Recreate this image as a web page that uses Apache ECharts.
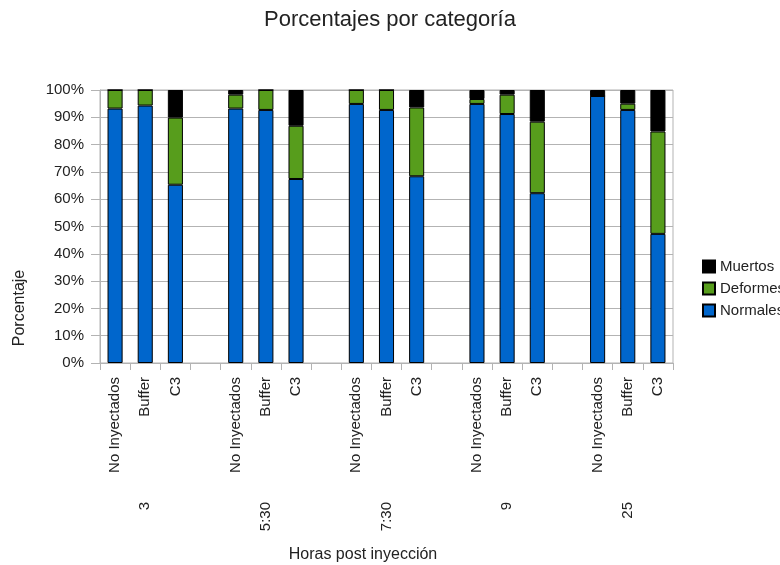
<!DOCTYPE html>
<html>
<head>
<meta charset="utf-8">
<script src="https://cdn.jsdelivr.net/npm/echarts@6/dist/echarts.min.js"></script>
<style>html,body{margin:0;padding:0;background:#fff}#c{width:780px;height:565px}</style>
</head>
<body>
<div id="c"></div>
<script>
var groups = ['3', '5:30', '7:30', '9', '25'];
var subcats = ['No Inyectados', 'Buffer', 'C3'];
var normales = [[93.2, 94.3, 65.3], [93.2, 92.7, 67.4], [94.9, 92.7, 68.4], [94.9, 91.2, 62.2], [97.8, 92.7, 47.3]];
var deformes = [[6.8, 5.7, 24.6], [5.1, 7.3, 19.5], [5.1, 7.3, 25.2], [1.8, 7.1, 26.2], [0, 2.3, 37.5]];
var muertos = [[0, 0, 10.1], [1.7, 0, 13.1], [0, 0, 6.4], [3.3, 1.7, 11.6], [2.2, 5.0, 15.2]];
var yTicks = [0, 10, 20, 30, 40, 50, 60, 70, 80, 90, 100];

var cats = [], groupCats = [], nData = [], dData = [], mData = [];
groups.forEach(function (g, gi) {
  subcats.forEach(function (s, si) {
    cats.push(s);
    groupCats.push(si === 1 ? g : '');
    nData.push(normales[gi][si]);
    dData.push(deformes[gi][si]);
    mData.push(muertos[gi][si]);
  });
  if (gi < groups.length - 1) {
    cats.push('');
    groupCats.push('');
    nData.push(null); dData.push(null); mData.push(null);
  }
});

var font = 'Liberation Sans, Arial, sans-serif';
var chart = echarts.init(document.getElementById('c'));
function bar(name, data, color) {
  return {
    name: name, type: 'bar', stack: 'total', data: data, barWidth: '50%',
    xAxisIndex: 0, yAxisIndex: 0,
    itemStyle: { color: color, borderColor: '#000', borderWidth: 1 },
    emphasis: { disabled: true }
  };
}
chart.setOption({
  animation: false,
  title: [
    { text: 'Porcentajes por categoría', left: 'center', top: 4,
      textStyle: { fontFamily: font, fontSize: 22, fontWeight: 'normal', color: '#222' } },
    { text: 'Horas post inyección', left: 358, top: 542, textAlign: 'center',
      textStyle: { fontFamily: font, fontSize: 16, fontWeight: 'normal', color: '#222' } }
  ],
  graphic: [
    { type: 'text', x: 20, y: 308, rotation: Math.PI / 2,
      style: { text: 'Porcentaje', fontFamily: font, fontSize: 16, fill: '#222', align: 'center', verticalAlign: 'middle' } }
  ],
  legend: {
    orient: 'vertical', left: 697, top: 254, itemWidth: 12, itemHeight: 12, itemGap: 7,
    data: ['Muertos', 'Deformes', 'Normales'],
    textStyle: { fontFamily: font, fontSize: 15, color: '#222' },
    icon: 'rect'
  },
  grid: { left: 100, right: 107, top: 90, bottom: 202, show: true, borderColor: '#b3b3b3', borderWidth: 1, containLabel: false },
  xAxis: [
    { type: 'category', data: cats, position: 'bottom',
      axisLine: { lineStyle: { color: '#b3b3b3' } },
      axisTick: { show: true, length: 7, interval: 0, lineStyle: { color: '#b3b3b3' } },
      axisLabel: { interval: 0, rotate: 90, margin: 14, fontFamily: font, fontSize: 15, color: '#222' } },
    { type: 'category', data: groupCats, position: 'bottom',
      axisLine: { show: false }, axisTick: { show: false },
      axisLabel: { interval: 0, rotate: 90, margin: 139, fontFamily: font, fontSize: 15, color: '#222' } }
  ],
  yAxis: {
    type: 'value', min: yTicks[0], max: yTicks[yTicks.length - 1], interval: 10,
    axisLine: { show: true, lineStyle: { color: '#b3b3b3' } },
    axisTick: { show: true, length: 9, lineStyle: { color: '#b3b3b3' } },
    axisLabel: { formatter: '{value}%', margin: 16, fontFamily: font, fontSize: 15, color: '#222' },
    splitLine: { lineStyle: { color: '#b3b3b3' } }
  },
  series: [
    bar('Normales', nData, '#0066cc'),
    bar('Deformes', dData, '#579d1c'),
    bar('Muertos', mData, '#000000')
  ]
});
</script>
</body>
</html>
